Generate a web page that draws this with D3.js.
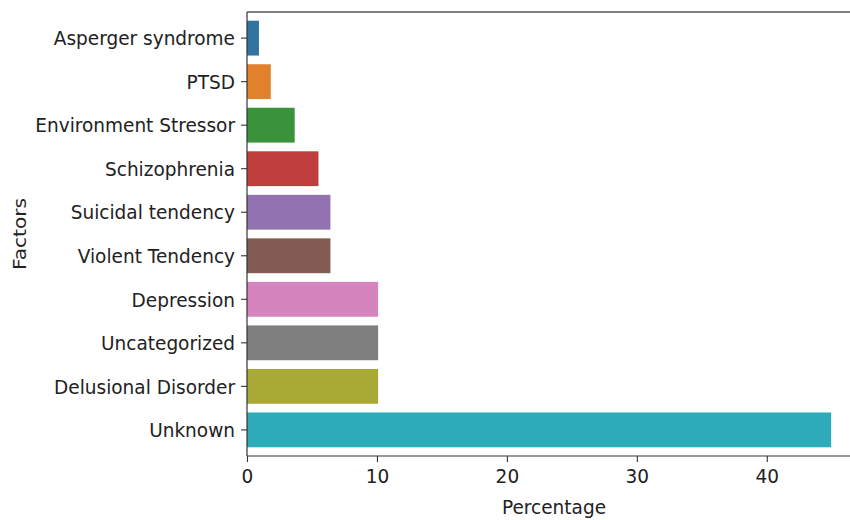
<!DOCTYPE html>
<html>
<head>
<meta charset="utf-8">
<script src="https://cdn.jsdelivr.net/npm/d3@7"></script>
<style>
  html, body { margin: 0; padding: 0; background: #fff; }
  svg { display: block; }
  text { font-family: "DejaVu Sans", sans-serif; fill: #222; }
</style>
</head>
<body>
<svg id="chart" width="850" height="520"></svg>
<script>
const categories = ["Asperger syndrome", "PTSD", "Environment Stressor", "Schizophrenia",
  "Suicidal tendency", "Violent Tendency", "Depression", "Uncategorized",
  "Delusional Disorder", "Unknown"];
const percentages = [0.92, 1.83, 3.67, 5.50, 6.42, 6.42, 10.09, 10.09, 10.09, 44.95];
const colors = ["#3274a1", "#e1812c", "#3a923a", "#c03d3e", "#9372b2",
  "#845b53", "#d684bd", "#7f7f7f", "#a9aa35", "#2eabb8"];
const xTicks = [0, 10, 20, 30, 40];
const xLabel = "Percentage";
const yLabel = "Factors";

const W = 850, H = 520;
const m = { left: 247, right: 861, top: 12, bottom: 456 };
const FS = 18.5, SY = 1.09;

const svg = d3.select("#chart");

const x = d3.scaleLinear().domain([0, 45 * 1.05]).range([m.left, m.right]);
const y = d3.scaleBand().domain(categories).range([m.top, m.bottom]).padding(0.2);

// bars
svg.append("g").selectAll("rect").data(categories).join("rect")
  .attr("x", x(0))
  .attr("y", d => y(d))
  .attr("width", (d, i) => x(percentages[i]) - x(0))
  .attr("height", y.bandwidth())
  .attr("fill", (d, i) => colors[i]);

// x axis
const gx = svg.append("g").attr("transform", `translate(0,${m.bottom})`)
  .call(d3.axisBottom(x).tickValues(xTicks).tickSize(6).tickSizeOuter(0).tickFormat(d3.format("d")));
gx.select(".domain").remove();
gx.selectAll(".tick line").attr("stroke", "#333").attr("stroke-width", 1.1);
gx.selectAll(".tick text")
  .attr("y", null).attr("dy", null)
  .attr("transform", `translate(0,27) scale(1,${SY})`)
  .attr("font-size", FS).attr("fill", "#222");

// y axis
const gy = svg.append("g").attr("transform", `translate(${m.left},0)`)
  .call(d3.axisLeft(y).tickSize(6).tickSizeOuter(0));
gy.select(".domain").remove();
gy.selectAll(".tick line").attr("stroke", "#333").attr("stroke-width", 1.1);
gy.selectAll(".tick text")
  .attr("x", null).attr("dy", null)
  .attr("transform", `translate(-12,0) scale(1,${SY})`)
  .attr("dy", "0.36em")
  .attr("font-size", FS).attr("fill", "#222");

// spines
svg.append("line").attr("x1", m.left).attr("x2", m.left).attr("y1", m.top).attr("y2", m.bottom)
  .attr("stroke", "#333").attr("stroke-width", 1.2);
svg.append("line").attr("x1", m.left).attr("x2", m.right).attr("y1", m.bottom).attr("y2", m.bottom)
  .attr("stroke", "#333").attr("stroke-width", 1.2);
svg.append("line").attr("x1", m.left).attr("x2", m.right).attr("y1", m.top).attr("y2", m.top)
  .attr("stroke", "#555").attr("stroke-width", 1.6);

// axis labels
svg.append("text")
  .attr("transform", `translate(${(m.left + m.right) / 2},514) scale(1,${SY})`)
  .attr("text-anchor", "middle").attr("font-size", FS).text(xLabel);
svg.append("text")
  .attr("transform", `translate(26,${(m.top + m.bottom) / 2}) rotate(-90) scale(${SY},1)`)
  .attr("text-anchor", "middle").attr("font-size", FS).text(yLabel);
</script>
</body>
</html>
